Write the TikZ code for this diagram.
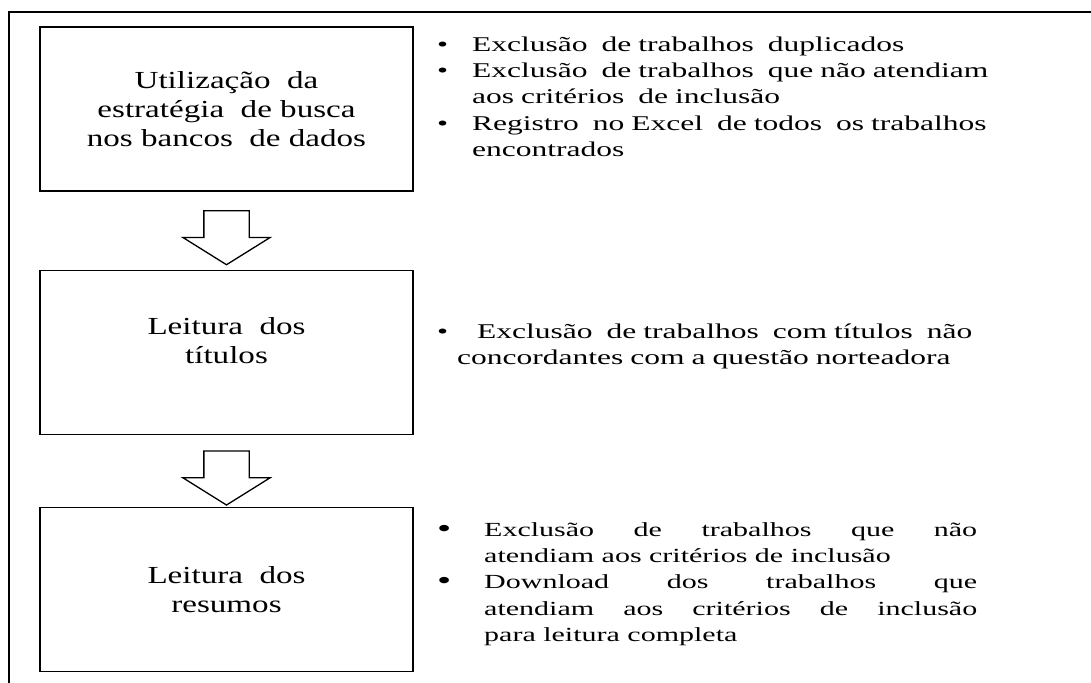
\documentclass[tikz,border=0pt]{standalone}
\usepackage{fontspec}
\setmainfont{Liberation Serif}
\newfontfamily\boxfont{Liberation Serif}[FakeStretch=1.35]
\newfontfamily\listfont{Liberation Serif}[FakeStretch=1.5]
\usetikzlibrary{shapes.arrows,positioning,calc}

% bullet item: [symbol]{bullet box}{hanging indent}{text}
\newcommand{\bitem}[4][\textbullet]{\par\noindent\hangindent=#3\hangafter=1\makebox[#2][l]{#1}\ignorespaces#4}
\newcommand{\bigbul}{\raisebox{-1pt}{\fontsize{27}{0}\selectfont\textbullet}}

\begin{document}
\begin{tikzpicture}[x=1pt,y=-1pt,
		stepbox/.style={rectangle, draw=black, line width=1.3pt, minimum width=373pt, minimum height=164pt, align=center, font=\boxfont\fontsize{24.5}{29}\selectfont},
		downarrow/.style={single arrow, draw=black, line width=1.3pt, rotate=-90, inner sep=0pt, text width=0pt, text height=44pt, text depth=0pt, minimum height=54pt, single arrow head extend=21pt, single arrow tip angle=116},
		notes/.style={anchor=base west, inner sep=0pt, text width=620pt, align=left, font=\listfont\fontsize{21}{26.3}\selectfont},
		frame/.style={draw=black, line width=1.3pt}
		]
		\useasboundingbox (0,0) rectangle (1091,682);
		\clip (0,0) rectangle (1091,682);
		
		% Frame
		\draw[frame] (9,12) rectangle (1120,720);
		
		% Nodes
		\node[stepbox] (Search) at (226.5,109) {Utilização\ \ da\\estratégia\ \ de busca\\nos bancos\ \ de dados};
		\node[stepbox, below=78pt of Search] (Titles) {Leitura\ \ dos\\títulos\\[-5pt]\mbox{}};
		\node[stepbox, below=72pt of Titles] (Abstracts) {Leitura\ \ dos\\resumos};
		
		% Arrows
		\node[downarrow] (Arrow1) at ($(Search.south)!0.5!(Titles.north)$) {};
		\node[downarrow] (Arrow2) at ($(Titles.south)!0.5!(Abstracts.north)$) {};
		
		% Notes
		\node[notes] (Notes1) at (437,25) {%
			\bitem{35pt}{35pt}{Exclusão\ \ de trabalhos\ \ duplicados}
			\bitem{35pt}{35pt}{Exclusão\ \ de trabalhos\ \ que não atendiam\newline aos critérios\ \ de inclusão}
			\bitem{35pt}{35pt}{Registro\ \ no Excel\ \ de todos\ \ os trabalhos\newline encontrados}\par};
		\node[notes] (Notes2) at (437,312) {%
			\bitem{40pt}{20pt}{Exclusão\ \ de trabalhos\ \ com títulos\ \ não\newline concordantes com a questão norteadora}\par};
		\node[notes, text width=540pt, align=justify, font=\listfont\fontsize{20}{26.3}\selectfont] (Notes3) at (437,510) {%
			\bitem[\bigbul]{47pt}{47pt}{Exclusão de trabalhos que não\linebreak atendiam aos critérios de inclusão}
			\bitem[\bigbul]{47pt}{47pt}{Download dos trabalhos que\linebreak atendiam aos critérios de inclusão\linebreak para leitura completa}\par};
	\end{tikzpicture}
\end{document}
